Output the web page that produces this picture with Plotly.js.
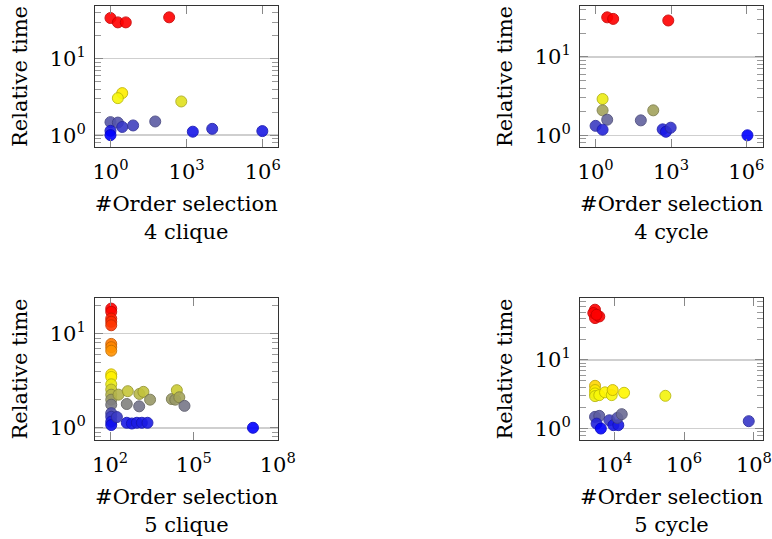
<!DOCTYPE html>
<html><head><meta charset="utf-8">
<script src="https://cdn.plot.ly/plotly-3.0.1.min.js"></script>
<style>html,body{margin:0;padding:0;background:#fff}</style>
</head><body><div id="chart" style="width:772px;height:539px"></div>
<script>
// ---- data ----
const panelNames = ['4 clique', '4 cycle', '5 clique', '5 cycle'];
const xAxisLabel = '#Order selection';
const yAxisLabel = 'Relative time';

const clique4X = [1, 1.95, 4.0, 205, 2.9, 1.95, 615, 1, 1.95, 2.9, 7.8, 58, 1, 1, 1750, 10200, 960000];
const clique4Y = [34.1, 29.9, 29.9, 34.8, 3.55, 3.05, 2.76, 1.48, 1.46, 1.28, 1.34, 1.51, 1.14, 1.0, 1.11, 1.21, 1.13];

const cycle4X = [2.9, 5.0, 780, 1.9, 1.9, 197, 2.9, 63, 1, 1.9, 467, 630, 970, 1100000];
const cycle4Y = [31.8, 30.4, 29.0, 2.9, 2.08, 2.08, 1.58, 1.55, 1.32, 1.18, 1.19, 1.11, 1.25, 1.0];

const clique5X = [110, 110, 110, 110, 110, 110, 110, 110, 110, 110, 110, 110, 110, 110, 110, 110, 110, 110, 110,
                  200, 175, 430, 395, 1120, 1560, 1100, 2700, 16200, 21500, 24500, 30000, 46000,
                  395, 600, 910, 1370, 2180, 13000000];
const clique5Y = [18.5, 17.1, 14.5, 13.4, 12.3, 7.8, 7.2, 6.6, 3.7, 3.47, 2.9, 2.55, 2.25, 1.99, 1.76, 1.43, 1.31, 1.16, 1.07,
                  2.25, 1.3, 2.45, 1.79, 2.29, 2.41, 1.69, 1.99, 2.02, 1.99, 2.51, 2.11, 1.71,
                  1.13, 1.11, 1.13, 1.13, 1.13, 1.0];

const cycle5X = [2790, 2500, 2800, 3700, 3100, 2800, 2800, 2800, 2800, 3700, 5400, 8400, 8950, 19000, 290000,
                 2800, 3700, 3100, 4100, 7200, 9400, 13000, 12200, 16300, 71000000];
const cycle5Y = [54, 48.3, 40.8, 43, 45.6, 4.2, 3.64, 3.25, 2.97, 3.07, 3.37, 3.07, 3.64, 3.32, 3.0,
                 1.48, 1.53, 1.18, 1.0, 1.32, 1.12, 1.12, 1.43, 1.62, 1.28];

const xTickVals = [[1, 1e3, 1e6], [1, 1e3, 1e6], [1e2, 1e5, 1e8], [1e4, 1e6, 1e8]];
const xTickText = [['10<sup>0</sup>', '10<sup>3</sup>', '10<sup>6</sup>'],
                   ['10<sup>0</sup>', '10<sup>3</sup>', '10<sup>6</sup>'],
                   ['10<sup>2</sup>', '10<sup>5</sup>', '10<sup>8</sup>'],
                   ['10<sup>4</sup>', '10<sup>6</sup>', '10<sup>8</sup>']];
const yTickVals = [1, 10];
const yTickText = ['10<sup>0</sup>', '10<sup>1</sup>'];
const yMinorVals = [0.6, 0.7, 0.8, 0.9, 2, 3, 4, 5, 6, 7, 8, 9, 20, 30, 40, 50, 60, 70, 80, 90];

// ---- drawing ----
const seriesX = [clique4X, cycle4X, clique5X, cycle5X];
const seriesY = [clique4Y, cycle4Y, clique5Y, cycle5Y];

const W = 772, H = 539;
const boxes = [ // [left, right, top, bottom] in px
  [95, 277.5, 6, 147],
  [580, 763, 6, 147],
  [95, 278, 298, 440],
  [580, 763, 298, 440]
];
const xRanges = [[-0.61, 6.58], [-0.62, 6.66], [1.46, 8.01], [3.016, 8.26]];
const yRanges = [[-0.155, 1.69], [-0.149, 1.647], [-0.13, 1.38], [-0.167, 1.903]];

const FONT = 'DejaVu Serif';
const fillScale = [[0, 'rgb(0,0,255)'], [0.4, 'rgb(255,255,0)'], [1, 'rgb(255,0,0)']];
const edgeScale = [[0, 'rgb(0,0,200)'], [0.4, 'rgb(195,195,0)'], [1, 'rgb(200,0,0)']];

const traces = [];
const layout = {
  width: W, height: H,
  margin: {l: 0, r: 0, t: 0, b: 0},
  paper_bgcolor: '#fff', plot_bgcolor: '#fff',
  showlegend: false,
  hovermode: false,
  font: {family: FONT, size: 21, color: '#000'}
};

for (let i = 0; i < 4; i++) {
  const s = i === 0 ? '' : String(i + 1);
  const meta = seriesY[i].map(v => Math.log10(v));
  traces.push({
    type: 'scatter', mode: 'markers',
    x: seriesX[i], y: seriesY[i],
    xaxis: 'x' + s, yaxis: 'y' + s,
    marker: {
      size: 11, opacity: 0.9,
      color: meta, cmin: 0, cmax: 1.25, colorscale: fillScale, showscale: false,
      line: {width: 1, color: meta, cmin: 0, cmax: 1.25, colorscale: edgeScale}
    }
  });
  const b = boxes[i];
  layout['xaxis' + s] = {
    type: 'log', range: xRanges[i], anchor: 'y' + s,
    domain: [b[0] / W, b[1] / W],
    tickmode: 'array', tickvals: xTickVals[i], ticktext: xTickText[i],
    ticks: 'inside', ticklen: 8, tickwidth: 1, tickcolor: '#888',
    showline: true, linecolor: '#333', linewidth: 1, mirror: 'allticks',
    showgrid: false, zeroline: false,
    tickfont: {family: FONT, size: 21, color: '#000'},
    ticklabelstandoff: 6,
    title: {text: xAxisLabel + '<br>' + panelNames[i], font: {family: FONT, size: 21, color: '#000'}, standoff: 13},
    fixedrange: true
  };
  layout['yaxis' + s] = {
    type: 'log', range: yRanges[i], anchor: 'x' + s,
    domain: [1 - b[3] / H, 1 - b[2] / H],
    tickmode: 'array', tickvals: yTickVals, ticktext: yTickText,
    ticks: 'inside', ticklen: 8, tickwidth: 1, tickcolor: '#888',
    minor: {tickmode: 'array', tickvals: yMinorVals, ticks: 'inside', ticklen: 6, tickcolor: '#999', showgrid: false},
    showline: true, linecolor: '#333', linewidth: 1, mirror: 'allticks',
    showgrid: true, gridcolor: '#cfcfcf', gridwidth: 1.5, zeroline: false,
    tickfont: {family: FONT, size: 21, color: '#000'},
    ticklabelstandoff: 4,
    title: {text: yAxisLabel, font: {family: FONT, size: 21, color: '#000'}, standoff: 16},
    fixedrange: true
  };
}

Plotly.newPlot('chart', traces, layout, {displayModeBar: false, staticPlot: true});
</script>
</body></html>
